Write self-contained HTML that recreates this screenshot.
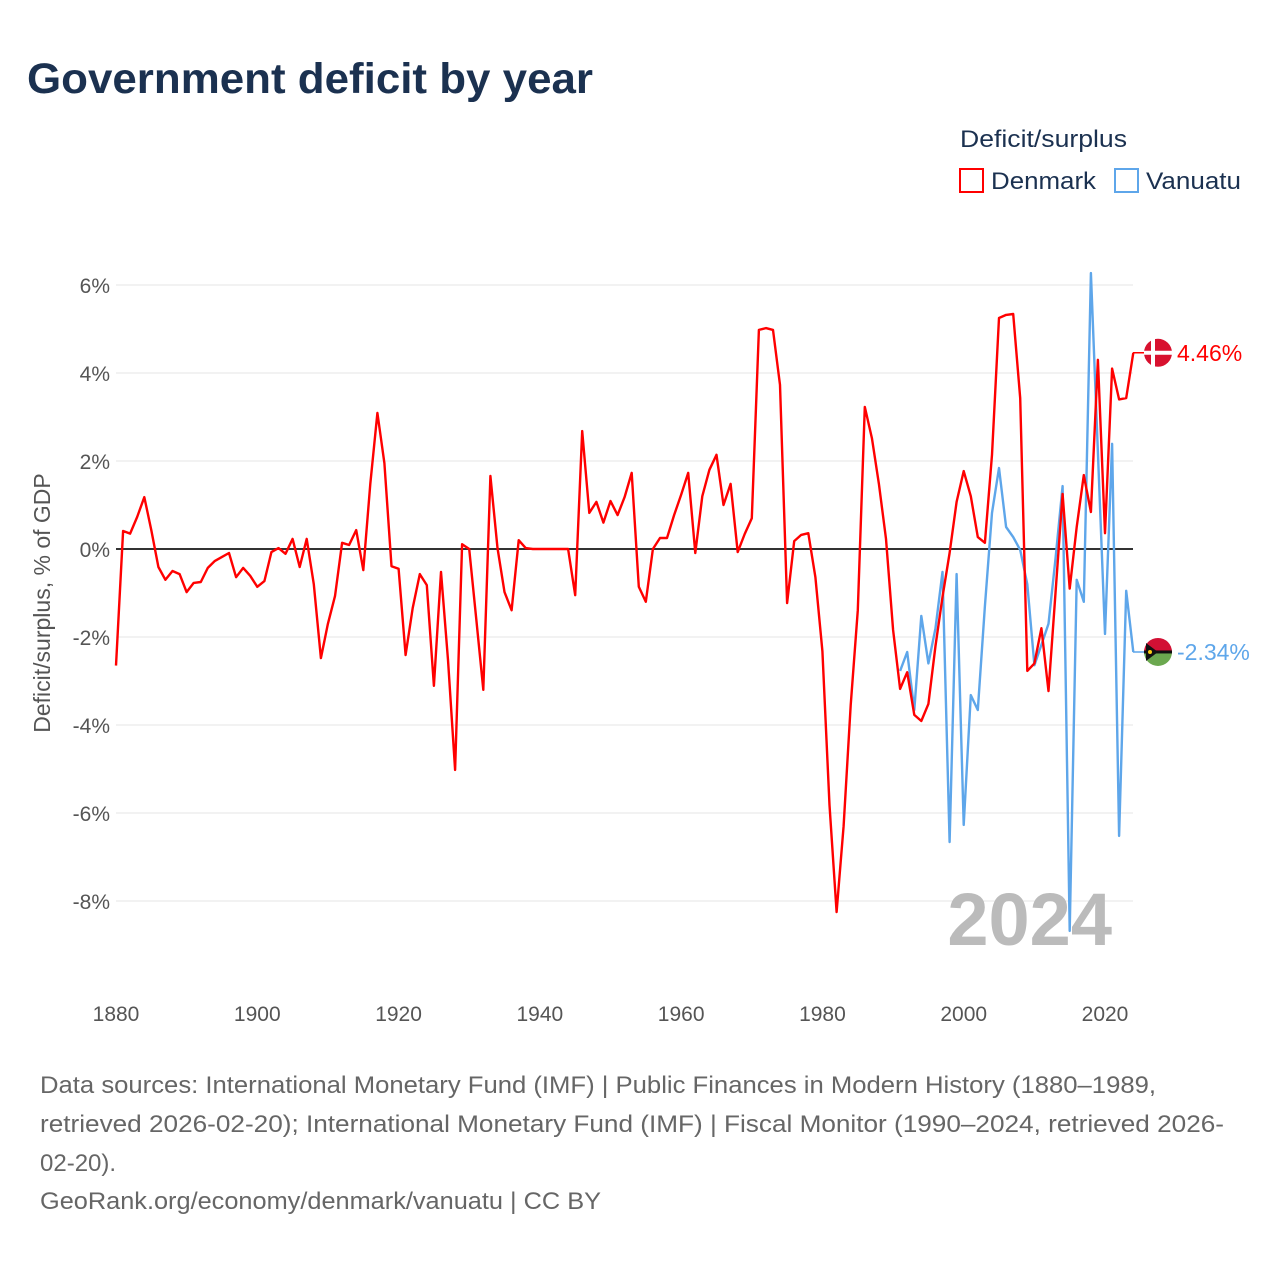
<!DOCTYPE html>
<html><head><meta charset="utf-8">
<style>
body{margin:0;background:#fff;font-family:"Liberation Sans",sans-serif;}
svg text{font-family:"Liberation Sans",sans-serif;}
</style></head>
<body>
<svg id="chart" width="1280" height="1280" viewBox="0 0 1280 1280" xmlns="http://www.w3.org/2000/svg">
<rect width="1280" height="1280" fill="#fff"/>
<text x="27" y="93" font-size="43" font-weight="bold" fill="#1b3150" textLength="566" lengthAdjust="spacingAndGlyphs">Government deficit by year</text>
<text x="960" y="147" font-size="24" fill="#1b3150" textLength="167" lengthAdjust="spacingAndGlyphs">Deficit/surplus</text>
<g>
<rect x="960" y="169" width="23" height="23" fill="none" stroke="#f00" stroke-width="2"/>
<text x="991" y="189" font-size="24" fill="#1b3150" textLength="105" lengthAdjust="spacingAndGlyphs">Denmark</text></g>
<g>
<rect x="1115" y="169" width="23" height="23" fill="none" stroke="#5ea6ea" stroke-width="2"/>
<text x="1146" y="189" font-size="24" fill="#1b3150" textLength="95" lengthAdjust="spacingAndGlyphs">Vanuatu</text></g>
<g id="grid"></g>
<text x="1112" y="945" font-size="74" font-weight="bold" fill="#bbb" text-anchor="end">2024</text>
<g id="plot"></g>
<text transform="translate(50,603) rotate(-90)" font-size="23" fill="#555" text-anchor="middle">Deficit/surplus, % of GDP</text>
<g font-size="24" fill="#666">
<text x="40" y="1093" textLength="1116" lengthAdjust="spacingAndGlyphs">Data sources: International Monetary Fund (IMF) | Public Finances in Modern History (1880–1989,</text>
<text x="40" y="1132" textLength="1184" lengthAdjust="spacingAndGlyphs">retrieved 2026-02-20); International Monetary Fund (IMF) | Fiscal Monitor (1990–2024, retrieved 2026-</text>
<text x="40" y="1171">02-20).</text>
<text x="40" y="1209" textLength="561" lengthAdjust="spacingAndGlyphs">GeoRank.org/economy/denmark/vanuatu | CC BY</text>
</g>
</svg>
<script>
const yTicks=[-8,-6,-4,-2,0,2,4,6];
const xTicks=[1880,1900,1920,1940,1960,1980,2000,2020];
const denmarkStart=1880;
const denmark=[-2.65,0.41,0.35,0.73,1.18,0.43,-0.41,-0.7,-0.5,-0.57,
-0.98,-0.77,-0.75,-0.43,-0.27,-0.18,-0.09,-0.64,-0.43,-0.61,
-0.86,-0.73,-0.07,0.02,-0.11,0.23,-0.41,0.23,-0.8,-2.48,
-1.7,-1.07,0.14,0.09,0.43,-0.48,1.48,3.09,1.95,-0.39,
-0.45,-2.41,-1.34,-0.57,-0.82,-3.11,-0.52,-2.52,-5.02,0.11,
0.0,-1.6,-3.2,1.66,0.02,-0.98,-1.39,0.2,0.02,0,
0,0,0,0,0,-1.05,2.68,0.82,1.07,0.6,
1.09,0.77,1.18,1.73,-0.86,-1.2,0,0.25,0.25,0.77,
1.23,1.73,-0.09,1.2,1.8,2.14,1.0,1.48,-0.07,0.34,
0.7,4.98,5.02,4.98,3.73,-1.23,0.18,0.32,0.36,-0.64,
-2.32,-5.82,-8.25,-6.3,-3.55,-1.39,3.23,2.52,1.48,0.23,
-1.84,-3.18,-2.8,-3.77,-3.91,-3.52,-2.2,-1.09,-0.09,1.07,
1.77,1.2,0.27,0.14,2.14,5.25,5.32,5.34,3.43,-2.77,
-2.6,-1.8,-3.23,-1.0,1.25,-0.9,0.5,1.68,0.84,4.3,
0.36,4.1,3.4,3.43,4.46];
const vanuatuStart=1991;
const vanuatu=[-2.77,-2.34,-3.66,-1.52,-2.6,-1.8,-0.52,-6.66,-0.57,
-6.27,-3.32,-3.66,-1.3,0.82,1.84,0.5,0.27,-0.02,-0.8,
-2.64,-2.18,-1.7,-0.22,1.43,-8.68,-0.7,-1.2,6.27,2.2,
-1.93,2.39,-6.52,-0.95,-2.34];
const NS='http://www.w3.org/2000/svg';
const X0=116,X1=1133;
function xs(y){return 116+(y-1880)*(1105-116)/140;}
function ys(v){return 549-v*44;}
function mk(t,a,p){const e=document.createElementNS(NS,t);for(const k in a)e.setAttribute(k,a[k]);p.appendChild(e);return e;}
const grid=document.getElementById('grid');
yTicks.forEach(v=>{
 const l=mk('line',{x1:X0,x2:X1,y1:ys(v),y2:ys(v),stroke:'#e6e6e6','stroke-width':1},grid);
 
 
 const t=mk('text',{x:110,y:ys(v)+8,'font-size':21,fill:'#555','text-anchor':'end'},grid);
 t.textContent=v+'%';
 
 
});
xTicks.forEach(y=>{
 const t=mk('text',{x:xs(y),y:1021,'font-size':21,fill:'#555','text-anchor':'middle'},grid);
 t.textContent=y;
 
 
});
const plot=document.getElementById('plot');
const zl=mk('line',{x1:X0,x2:X1,y1:ys(0),y2:ys(0),stroke:'#333','stroke-width':2},plot);


function series(arr,start,color,name){
 const pts=arr.map((v,i)=>xs(start+i).toFixed(1)+','+ys(v).toFixed(1)).join(' ');
 const p=mk('polyline',{points:pts,fill:'none',stroke:color,'stroke-width':2.4,'stroke-linejoin':'round'},plot);
 
 
}
series(vanuatu,vanuatuStart,'#5ea6ea','vanuatu-line');
series(denmark,denmarkStart,'#ff0000','denmark-line');
const dv=denmark[denmark.length-1], vv=vanuatu[vanuatu.length-1];
const dg=mk('g',{},plot);


mk('line',{x1:X1,x2:1150,y1:ys(dv),y2:ys(dv),stroke:'#f00','stroke-width':1.5},dg);
mk('circle',{cx:1158,cy:ys(dv),r:14,fill:'#d8112f'},dg);
mk('rect',{x:1151,y:ys(dv)-14,width:4,height:28,fill:'#fff'},dg);
mk('rect',{x:1144,y:ys(dv)-2,width:28,height:4,fill:'#fff'},dg);
const dt=mk('text',{x:1177,y:ys(dv)+8,'font-size':23,fill:'#f00'},dg);dt.textContent=dv.toFixed(2)+'%';
const vg=mk('g',{},plot);


const vy=ys(vv);
mk('line',{x1:X1,x2:1150,y1:vy,y2:vy,stroke:'#5ea6ea','stroke-width':1.5},vg);
mk('path',{d:`M1144 ${vy} A14 14 0 0 1 1172 ${vy} Z`,fill:'#d21034'},vg);
mk('path',{d:`M1144 ${vy} A14 14 0 0 0 1172 ${vy} Z`,fill:'#6ba84f'},vg);
mk('rect',{x:1144,y:vy-1.5,width:28,height:3,fill:'#111'},vg);
mk('path',{d:`M1146 ${vy-9} L1158 ${vy} L1146 ${vy+9} Z`,fill:'#111'},vg);
mk('circle',{cx:1150,cy:vy,r:2,fill:'#fdce12'},vg);
const vt=mk('text',{x:1177,y:vy+8,'font-size':23,fill:'#5ea6ea'},vg);vt.textContent=vv.toFixed(2)+'%';
</script>
</body></html>
